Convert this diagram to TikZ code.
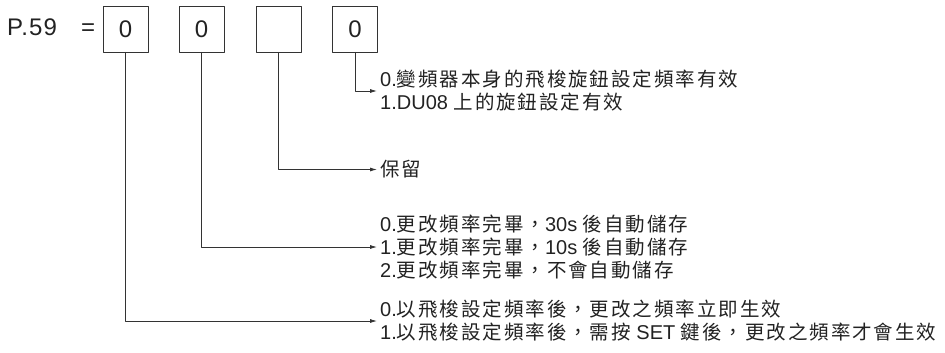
\documentclass[tikz,border=0pt]{standalone}
\usepackage{fontspec}
\setmainfont{Liberation Sans}
\newfontfamily\headfont{Liberation Sans}[LetterSpace=5]
\newfontfamily\cjkfont{Noto Sans CJK TC}[LetterSpace=10]
\newcommand{\tw}[1]{{\fontsize{19.5}{23}\cjkfont #1}}
\usetikzlibrary{arrows.meta}
\definecolor{inkline}{HTML}{333333}
\definecolor{inktext}{HTML}{222222}
\tikzset{
  digitbox/.style={draw=inkline, line width=0.8pt, minimum width=45pt, minimum height=46pt,
    inner sep=0pt, text=inktext, font=\fontsize{24}{26}\selectfont},
  headtext/.style={anchor=base west, inner sep=0pt, text=inktext, font=\fontsize{24}{26}\selectfont},
  optlist/.style={anchor=west, align=left, inner xsep=3pt, inner ysep=0pt, text=inktext,
    font=\fontsize{20}{23}\selectfont},
  branch/.style={draw=inkline, line width=0.8pt, -{Latex[length=7pt,width=4pt]}}
}
\begin{document}
\begin{tikzpicture}[x=1pt, y=-1pt, line cap=round, line join=round]
    \useasboundingbox (0,0) rectangle (945,353);
    \node[headtext] (par) at (7,36) {\headfont P.59};
    \node[headtext] (eq) at (81,36) {=};
    \foreach \i/\x/\d in {1/125.5/0, 2/201.5/0, 3/278.5/, 4/355/0}
      \node[digitbox] (b\i) at (\x,29) {\d};
    \node[optlist] (t4) at (377,91) {0.\tw{變頻器本身的飛梭旋鈕設定頻率有效}\\1.DU08 \tw{上的旋鈕設定有效}};
    \node[optlist] (t3) at (377,169.5) {\tw{保留}};
    \node[optlist] (t2) at (377,247) {0.\tw{更改頻率完畢，}30s \tw{後自動儲存}\\1.\tw{更改頻率完畢，}10s \tw{後自動儲存}\\2.\tw{更改頻率完畢，不會自動儲存}};
    \node[optlist] (t1) at (377,321) {0.\tw{以飛梭設定頻率後，更改之頻率立即生效}\\1.\tw{以飛梭設定頻率後，需按} SET \tw{鍵後，更改之頻率才會生效}};
    \foreach \i in {1,...,4} \draw[branch] (b\i.south) |- (t\i.west);
  \end{tikzpicture}
\end{document}
